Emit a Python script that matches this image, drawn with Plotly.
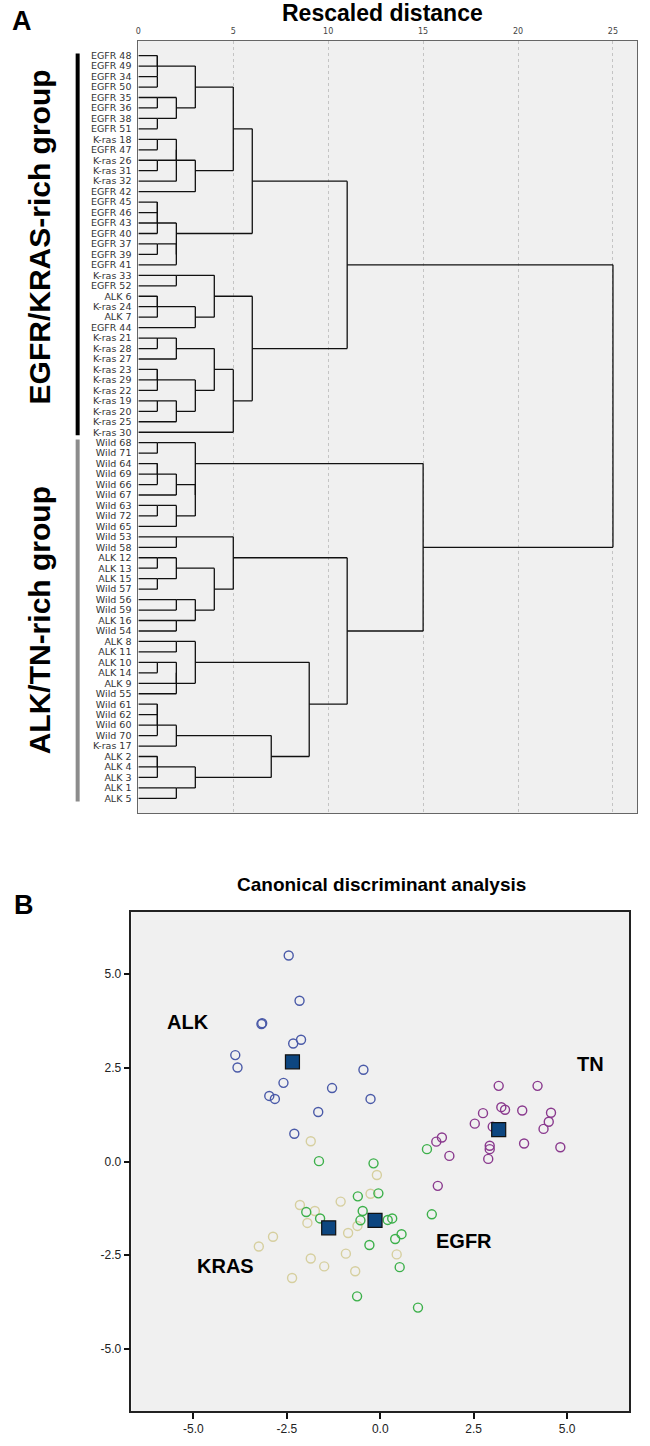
import plotly.graph_objects as go

# ---------------- Panel A data: dendrogram ----------------
leaf_labels = [
    "EGFR 48", "EGFR 49", "EGFR 34", "EGFR 50", "EGFR 35", "EGFR 36", "EGFR 38", "EGFR 51",
    "K-ras 18", "EGFR 47", "K-ras 26", "K-ras 31", "K-ras 32", "EGFR 42", "EGFR 45", "EGFR 46",
    "EGFR 43", "EGFR 40", "EGFR 37", "EGFR 39", "EGFR 41", "K-ras 33", "EGFR 52", "ALK 6",
    "K-ras 24", "ALK 7", "EGFR 44", "K-ras 21", "K-ras 28", "K-ras 27", "K-ras 23", "K-ras 29",
    "K-ras 22", "K-ras 19", "K-ras 20", "K-ras 25", "K-ras 30",
    "Wild 68", "Wild 71", "Wild 64", "Wild 69", "Wild 66", "Wild 67", "Wild 63", "Wild 72",
    "Wild 65", "Wild 53", "Wild 58", "ALK 12", "ALK 13", "ALK 15", "Wild 57", "Wild 56",
    "Wild 59", "ALK 16", "Wild 54", "ALK 8", "ALK 11", "ALK 10", "ALK 14", "ALK 9", "Wild 55",
    "Wild 61", "Wild 62", "Wild 60", "Wild 70", "K-ras 17", "ALK 2", "ALK 4", "ALK 3", "ALK 1",
    "ALK 5",
]

# merges: [rescaled distance, left, right]; integers = leaf rows (1-based)
grp1_a = [3, [1, [1, 1, 2], [1, 3, 4]], [2, [1, 5, 6], [1, 7, 8]]]
grp1_b = [3, [2, [2, [1, 9, 10], [1, 11, 12]], 13], 14]
grp1_c = [2, [1, [1, [1, 15, 16], 17], 18], [2, [1, 19, 20], 21]]
grp1_x = [6, [5, grp1_a, grp1_b], grp1_c]
grp1_d = [4, [2, 22, 23], [3, [1, [1, 24, 25], 26], 27]]
grp1_e = [5, [4, [2, [1, 28, 29], 30], [3, [1, [1, 31, 32], 33], [2, [1, 34, 35], 36]]], 37]
grp1 = [11, grp1_x, [6, grp1_d, grp1_e]]

grp2_f = [3, [1, 38, 39], [3, [2, [1, [1, 40, 41], 42], 43], [2, [1, 44, 45], 46]]]
grp2_h = [5, [2, 47, 48], [4, [2, [1, 49, 50], [1, 51, 52]], [3, [2, 53, 54], [2, 55, 56]]]]
grp2_i = [3, [2, 57, 58], [2, [2, [1, 59, 60], 61], 62]]
grp2_j = [2, [1, [1, [1, 63, 64], 65], 66], 67]
grp2_k = [3, [1, [1, 68, 69], 70], [2, 71, 72]]
grp2 = [15, grp2_f, [11, grp2_h, [9, grp2_i, [7, grp2_j, grp2_k]]]]

tree_root = [25, grp1, grp2]

distance_ticks = [0, 5, 10, 15, 20, 25]

# ---------------- Panel B data: canonical discriminant scores ----------------
alk_x = [-2.45, -2.16, -3.18, -3.16, -2.12, -2.33, -3.88, -3.82, -2.59, -0.45, -1.29, -2.97, -2.82, -0.26, -1.66, -2.30]
alk_y = [5.50, 4.29, 3.67, 3.69, 3.25, 3.15, 2.84, 2.51, 2.10, 2.45, 1.96, 1.75, 1.67, 1.67, 1.32, 0.74]

kras_x = [-1.86, -0.09, -0.26, -1.06, -2.15, -1.75, -1.95, -0.61, -0.86, -2.87, -3.25, 0.44, -0.92, -1.86, -1.50, -0.67, -2.36]
kras_y = [0.54, -0.36, -0.86, -1.07, -1.16, -1.32, -1.64, -1.72, -1.91, -2.01, -2.27, -2.48, -2.46, -2.59, -2.80, -2.93, -3.11]

egfr_x = [-1.64, -0.18, -0.05, -0.60, -1.98, -0.47, -1.61, -0.53, 0.20, 0.32, 0.57, 0.40, -0.29, 0.52, -0.62, 1.01, 1.25, 1.38]
egfr_y = [0.01, -0.05, -0.85, -0.93, -1.35, -1.32, -1.52, -1.57, -1.56, -1.52, -1.94, -2.07, -2.23, -2.82, -3.60, -3.90, 0.33, -1.41]

tn_x = [3.17, 4.21, 3.24, 3.34, 2.75, 3.80, 4.57, 4.51, 4.37, 2.53, 3.01, 3.85, 4.82, 1.50, 1.65, 1.85, 2.93, 2.93, 2.89, 1.54]
tn_y = [2.02, 2.02, 1.45, 1.38, 1.29, 1.36, 1.30, 1.06, 0.87, 1.01, 0.93, 0.48, 0.38, 0.53, 0.64, 0.15, 0.42, 0.33, 0.07, -0.65]

centroid_names = ["ALK", "TN", "KRAS", "EGFR"]
centroid_x = [-2.35, 3.17, -1.38, -0.14]
centroid_y = [2.66, 0.85, -1.77, -1.57]

score_ticks = [-5.0, -2.5, 0.0, 2.5, 5.0]

# ---------------- build dendrogram segments ----------------
seg_x, seg_y = [], []


def walk(node):
    if isinstance(node, int):
        return node, 0.0
    h, a, b = node
    ra, ha = walk(a)
    rb, hb = walk(b)
    seg_x.extend([ha, h, None, hb, h, None, h, h, None])
    seg_y.extend([ra, ra, None, rb, rb, None, ra, rb, None])
    return (ra + rb) // 2, h


walk(tree_root)

W, H = 650, 1446
FONT = "Liberation Sans, Arial, sans-serif"

fig = go.Figure()
fig.add_trace(go.Scatter(x=seg_x, y=seg_y, mode="lines",
                         line=dict(color="#111111", width=1.3),
                         hoverinfo="skip", showlegend=False,
                         xaxis="x", yaxis="y"))

mk_line = 1.4
groups = [
    (alk_x, alk_y, "#4a5aa8"),
    (kras_x, kras_y, "#d6cf9f"),
    (egfr_x, egfr_y, "#3cb04a"),
    (tn_x, tn_y, "#8a3a8e"),
]
for gx, gy, col in groups:
    fig.add_trace(go.Scatter(x=gx, y=gy, mode="markers",
                             marker=dict(symbol="circle-open", size=9, color=col,
                                         line=dict(width=mk_line, color=col)),
                             showlegend=False, xaxis="x2", yaxis="y2"))
fig.add_trace(go.Scatter(x=centroid_x, y=centroid_y, mode="markers",
                         marker=dict(symbol="square", size=14, color="#0d4680",
                                     line=dict(width=1.2, color="#111111")),
                         text=centroid_names, showlegend=False,
                         xaxis="x2", yaxis="y2"))

xa_dom = [136 / W, 637 / W]
ya_dom = [1 - 813 / H, 1 - 41 / H]
xb_dom = [129 / W, 629 / W]
yb_dom = [1 - 1411 / H, 1 - 912 / H]

fig.update_layout(
    width=W, height=H,
    margin=dict(l=0, r=0, t=0, b=0),
    paper_bgcolor="white",
    plot_bgcolor="#f0f0f0",
    font=dict(family=FONT, color="#222222"),
    xaxis=dict(domain=xa_dom, anchor="y", side="top", range=[0, 26.27],
               tickvals=distance_ticks, ticks="", ticklabelstandoff=3,
               tickfont=dict(size=8, color="#444444", family="DejaVu Sans"),
               showgrid=True, gridcolor="#c4c4c4", griddash="dot", gridwidth=1,
               zeroline=False, showline=True, linecolor="#666666", linewidth=1,
               mirror=True),
    yaxis=dict(domain=ya_dom, anchor="x", range=[73.4, -0.4],
               tickvals=list(range(1, len(leaf_labels) + 1)), ticktext=leaf_labels,
               ticks="", ticklabelstandoff=4,
               tickfont=dict(size=9.5, color="#333333", family="DejaVu Sans"),
               showgrid=False, zeroline=False, showline=True,
               linecolor="#666666", linewidth=1, mirror=True),
    xaxis2=dict(domain=xb_dom, anchor="y2", range=[-6.66, 6.66],
                tickvals=score_ticks, ticktext=[f"{v:.1f}" for v in score_ticks],
                ticks="outside", ticklen=6, tickwidth=1.5, tickcolor="#111111",
                tickfont=dict(size=12, color="#222222"),
                showgrid=False, zeroline=False, showline=True,
                linecolor="#222222", linewidth=1.5, mirror=True),
    yaxis2=dict(domain=yb_dom, anchor="x2", range=[-6.66, 6.66],
                tickvals=score_ticks, ticktext=[f"{v:.1f}" for v in score_ticks],
                ticks="outside", ticklen=6, tickwidth=1.5, tickcolor="#111111",
                tickfont=dict(size=12, color="#222222"),
                showgrid=False, zeroline=False, showline=True,
                linecolor="#222222", linewidth=1.5, mirror=True),
)

# group bars at left of dendrogram
fig.add_shape(type="line", xref="paper", yref="y", x0=75 / W, x1=75 / W, y0=0.8, y1=37.3,
              line=dict(color="#000000", width=4))
fig.add_shape(type="line", xref="paper", yref="y", x0=75 / W, x1=75 / W, y0=37.7, y1=72.3,
              line=dict(color="#8c8c8c", width=4))


def note(text, x, y, size, xref="paper", yref="paper", angle=0):
    return dict(text=f"<b>{text}</b>", xref=xref, yref=yref, x=x, y=y,
                xanchor="center", yanchor="middle", textangle=angle,
                showarrow=False, font=dict(size=size, color="#000000", family=FONT))


ann = [
    note("EGFR/KRAS-rich group", 37 / W, 18.3, 30, yref="y", angle=-90),
    note("ALK/TN-rich group", 37 / W, 55, 30, yref="y", angle=-90),
    note("A", 19 / W, 1 - 21 / H, 27),
    note("Rescaled distance", 381 / W, 1 - 13 / H, 23),
    note("B", 21 / W, 1 - 905 / H, 27),
    note("Canonical discriminant analysis", 380 / W, 1 - 884 / H, 19),
]
label_pos = {"ALK": (-5.15, 3.72), "TN": (5.63, 2.61), "KRAS": (-4.13, -2.80), "EGFR": (2.25, -2.13)}
for name in centroid_names:
    lx, ly = label_pos[name]
    ann.append(note(name, lx, ly, 20, xref="x2", yref="y2"))
fig.update_layout(annotations=ann)

fig.write_html("out.html", config={"displayModeBar": False},
               post_script="document.body.style.margin='0px';")
